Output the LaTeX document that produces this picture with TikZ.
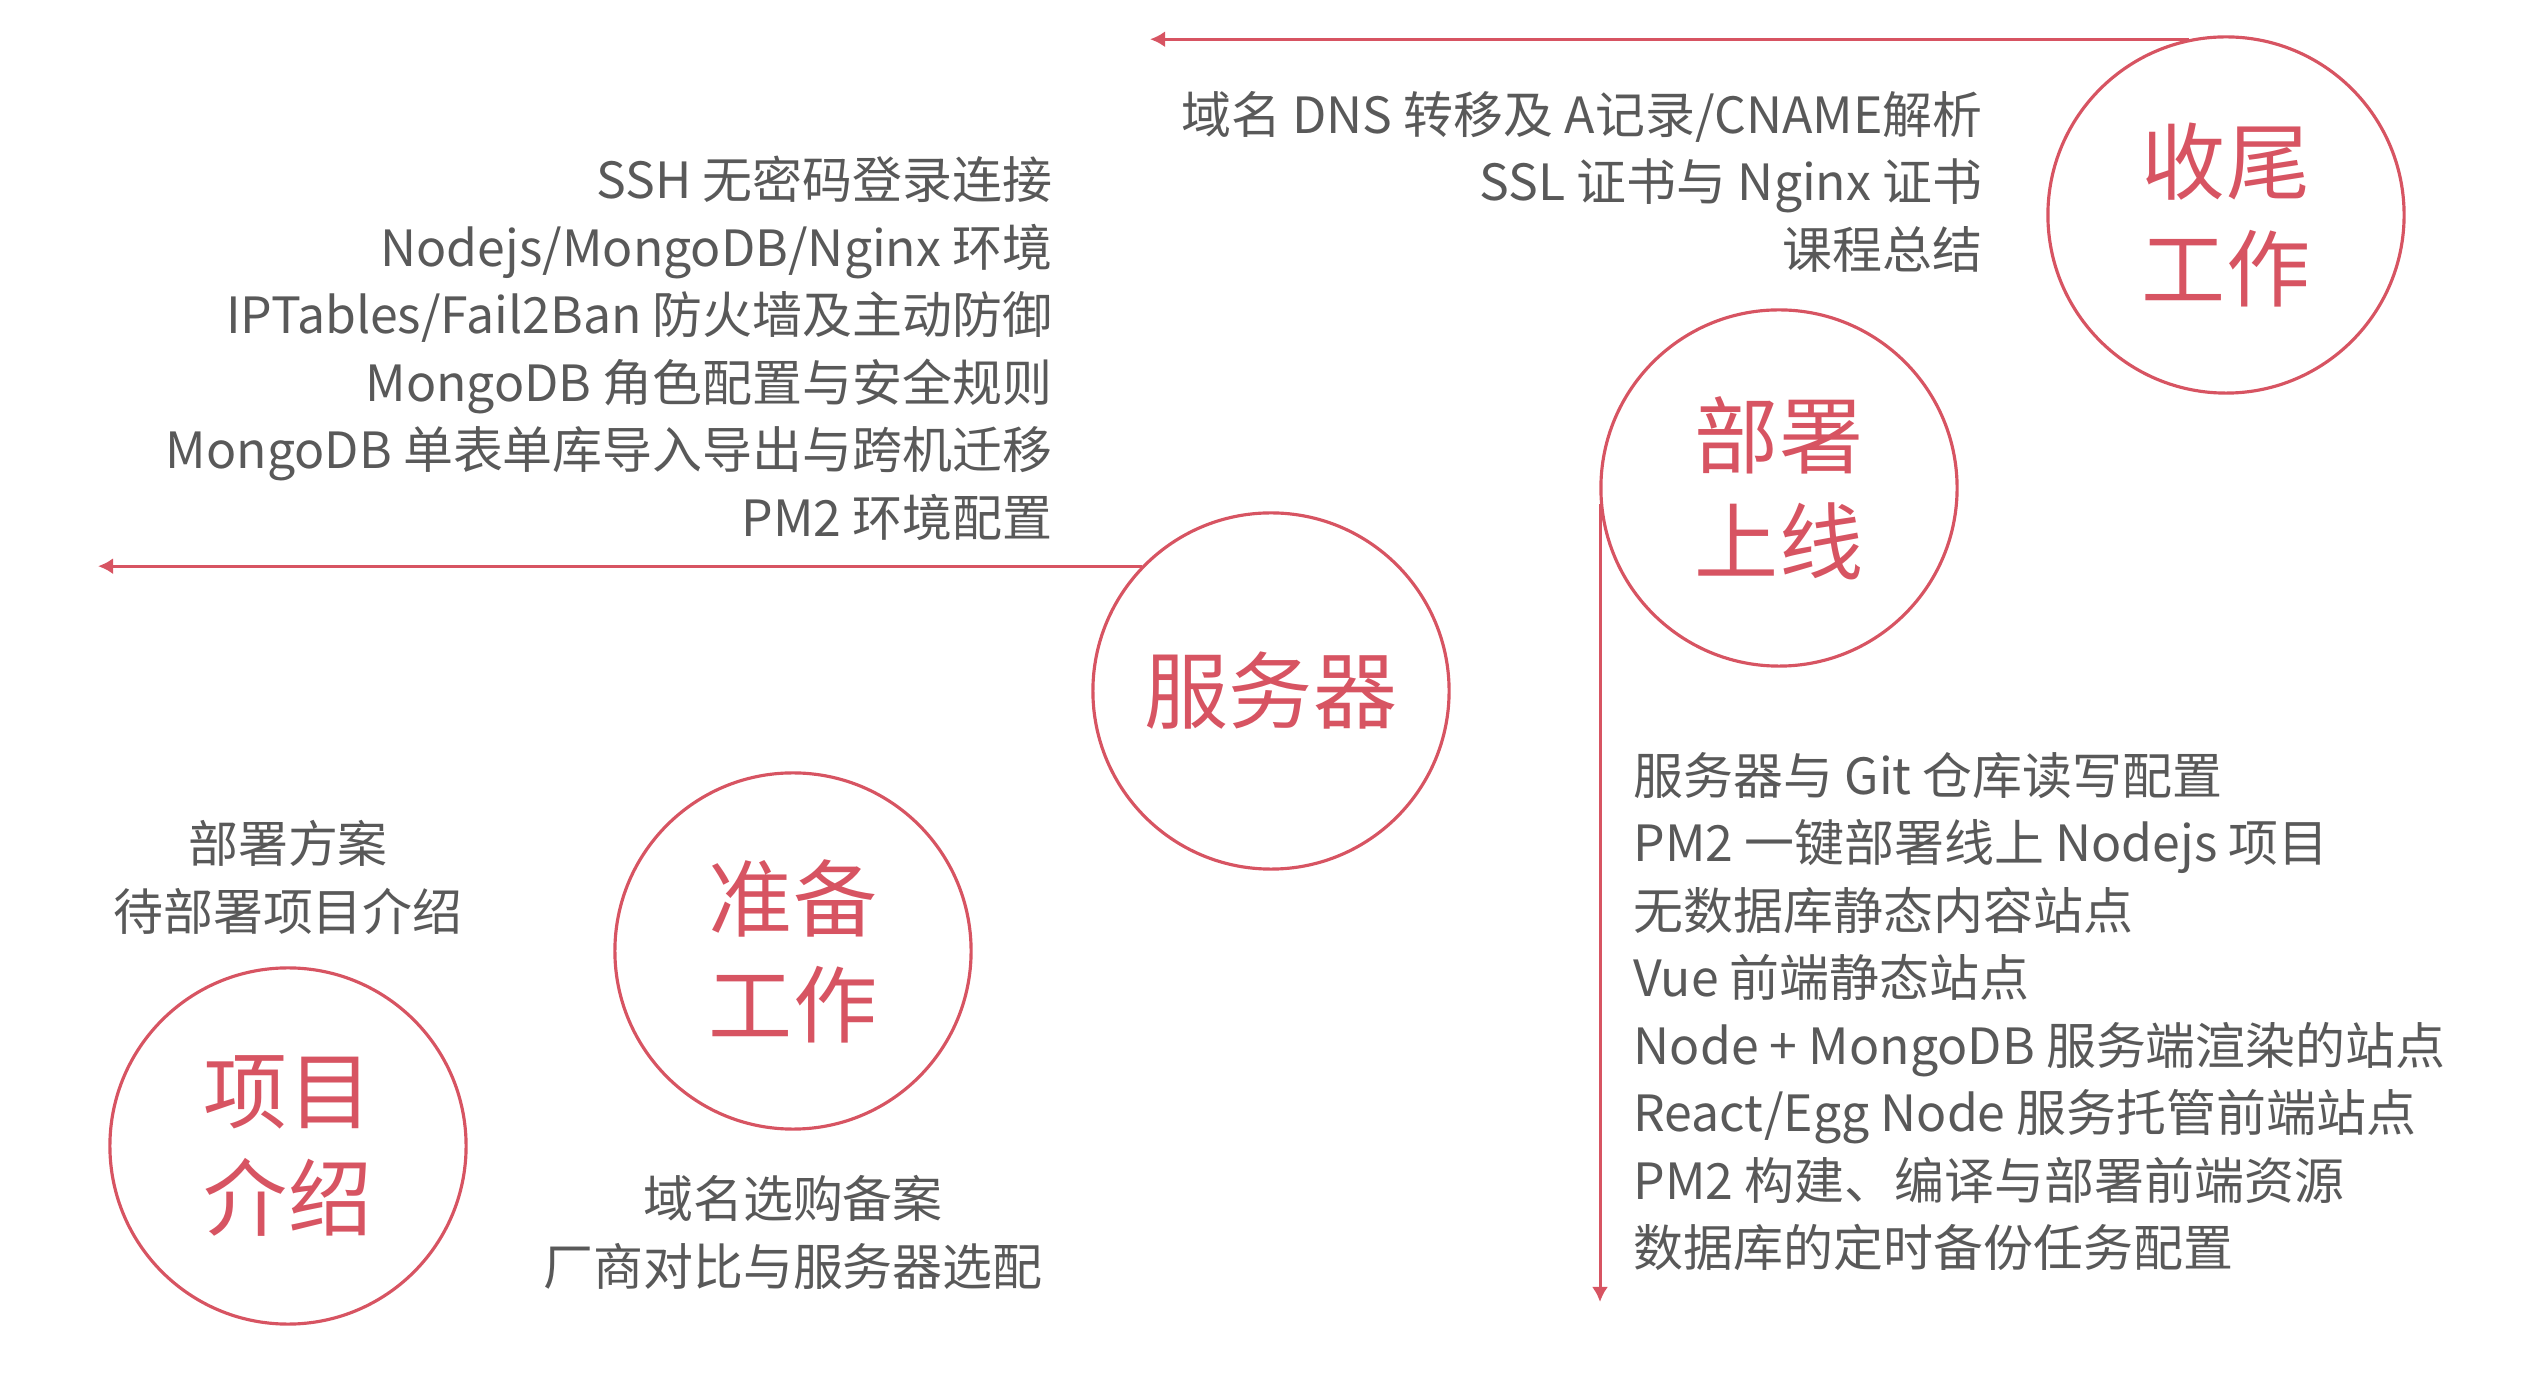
\documentclass[tikz,border=0pt]{standalone}
\usepackage{fontspec}
\setmainfont{Noto Sans CJK SC}
\usepackage{tikz}
\usetikzlibrary{arrows.meta,positioning}
\definecolor{accent}{HTML}{D75462}
\definecolor{ink}{HTML}{595959}

\begin{document}
\begin{tikzpicture}[x=0.01cm,y=-0.01cm,
          every node/.style={inner sep=0pt},
          stage/.style={circle,draw=accent,line width=0.9pt,
                        minimum size=3.56cm,text=accent,align=center,
                        font=\fontsize{23.9}{30.2}\selectfont},
          topics/.style={text=ink,font=\fontsize{14.2}{19.2}\selectfont},
          arr/.style={-{Latex[length=1.5mm,width=1.6mm]},draw=accent,line width=0.85pt},
      ]
        \useasboundingbox (0,0) rectangle (2548,1398);
        % stages
        \node[stage] (xiangmu) at (288,1146) {项目\\介绍};
        \node[stage] (zhunbei) at (793,951) {准备\\工作};
        \node[stage] (fuwuqi) at (1271,691) {服务器};
        \node[stage] (bushu) at (1779,488) {部署\\上线};
        \node[stage] (shouwei) at (2226,215) {收尾\\工作};
        % topics
        \node[topics,align=center] (xiangmutxt) at (288,877.5)
          {部署方案\\待部署项目介绍};
        \node[topics,align=center] (zhunbeitxt) at (793,1232.5)
          {域名选购备案\\厂商对比与服务器选配};
        \node[topics,align=right,anchor=east] (fuwuqitxt) at (1053,348.5)
          {SSH 无密码登录连接\\Nodejs/MongoDB/Nginx 环境\\IPTables/Fail2Ban 防火墙及主动防御\\MongoDB 角色配置与安全规则\\MongoDB 单表单库导入导出与跨机迁移\\PM2 环境配置};
        \node[topics,align=left,anchor=west] (bushutxt) at (1633,1011.5)
          {服务器与 Git 仓库读写配置\\PM2 一键部署线上 Nodejs 项目\\无数据库静态内容站点\\Vue 前端静态站点\\Node + MongoDB 服务端渲染的站点\\React/Egg Node 服务托管前端站点\\PM2 构建、编译与部署前端资源\\数据库的定时备份任务配置};
        \node[topics,align=right,anchor=east] (shouweitxt) at (1983,181.5)
          {域名 DNS 转移及 A记录/CNAME解析\\SSL 证书与 Nginx 证书\\课程总结};
        % arrows
        \coordinate (toptip) at (1150,39);
        \coordinate (midtip) at (98,567);
        \coordinate (downtip) at (1602,1302);
        \draw[arr] (shouwei.102) -- (toptip |- shouwei.102);
        \draw[arr] (fuwuqi.136) -- (midtip |- fuwuqi.136);
        \draw[arr] (bushu.185) -- (bushu.185 |- downtip);
      \end{tikzpicture}
\end{document}
